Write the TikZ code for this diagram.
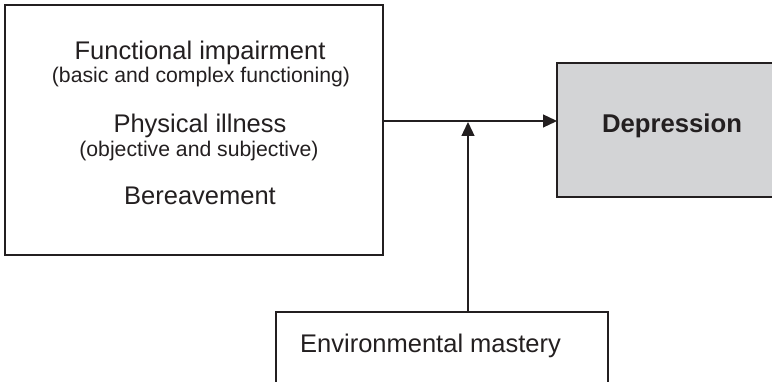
\documentclass[tikz,border=0pt]{standalone}
\usepackage{fontspec}
\setmainfont{Liberation Sans}
\usetikzlibrary{arrows.meta}
\definecolor{ink}{HTML}{231F20}
\definecolor{depfill}{HTML}{D3D4D6}
\begin{document}
\begin{tikzpicture}[x=1pt,y=-1pt,
  boxstyle/.style={draw=ink,line width=1.3pt,inner sep=0pt,outer sep=0pt,rectangle},
  big/.style={anchor=base,inner sep=0pt,text=ink,font=\fontsize{25.5}{30}\selectfont},
  small/.style={anchor=base,inner sep=0pt,text=ink,font=\fontsize{21.2}{25}\selectfont},
  conn/.style={draw=ink,line width=1.3pt},
  tip/.style={-{Triangle[length=14pt,width=13pt]}}]
\useasboundingbox (0,0) rectangle (772,382);
\clip (0,0) rectangle (772,382);
% boxes
\node[boxstyle,minimum width=378pt,minimum height=250pt] (causes) at (194,130) {};
\node[boxstyle,fill=depfill,minimum width=240pt,minimum height=134pt] (dep) at (677,130) {};
\node[boxstyle,minimum width=332pt,minimum height=100pt] (env) at (442,362) {};
% texts
\node[big] (t1) at (200,60) {Functional impairment};
\node[small] (t2) at (201,83) {(basic and complex functioning)};
\node[big] (t3) at (200,133) {Physical illness};
\node[small] (t4) at (199,157) {(objective and subjective)};
\node[big] (t5) at (200,205) {Bereavement};
\node[big,font=\fontsize{25.7}{30}\selectfont\bfseries] (t6) at (672,133) {Depression};
\node[big,anchor=base west] (t7) at (300,353) {Environmental mastery};
% connectors
\coordinate (hstart) at (383,121);
\coordinate (hend) at (557,121);
\coordinate (vtop) at (468,122);
\draw[conn,tip] (hstart) -- (hend);
\draw[conn,tip] (env.north -| vtop) -- (vtop);
\end{tikzpicture}
\end{document}
